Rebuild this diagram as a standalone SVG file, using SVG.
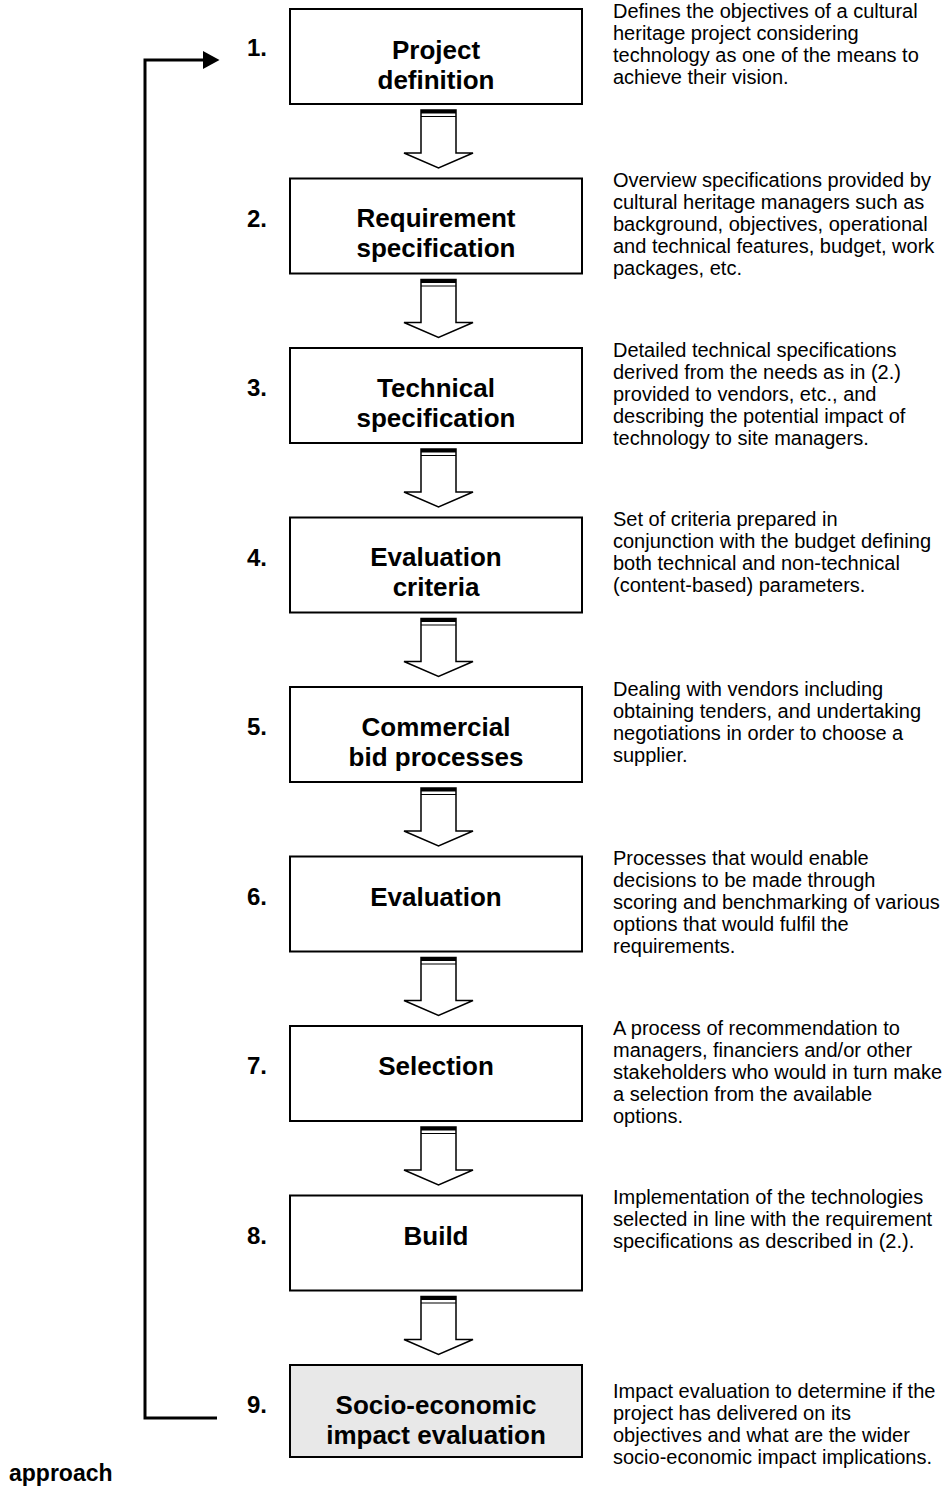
<svg xmlns="http://www.w3.org/2000/svg" width="946" height="1490" viewBox="0 0 946 1490">
  <defs>
    <style>
      .box { fill: #ffffff; stroke: #000000; stroke-width: 2; }
      .box.last { fill: #e8e8e8; }
      .label { font-family: "Liberation Sans", Arial, sans-serif; font-weight: bold; font-size: 26px; text-anchor: middle; fill: #000; }
      .num { font-family: "Liberation Sans", Arial, sans-serif; font-weight: bold; font-size: 24px; fill: #000; }
      .desc { font-family: "Liberation Sans", Arial, sans-serif; font-size: 20px; fill: #000; }
      .flow { fill: #ffffff; stroke: #000000; stroke-width: 1.5; stroke-linejoin: miter; }
      .feedback { fill: none; stroke: #000000; stroke-width: 3; }
    </style>
    <marker id="head" markerWidth="6" markerHeight="6" refX="0" refY="3" orient="auto" markerUnits="strokeWidth">
      <path d="M0,0 L5.5,3 L0,6 z" fill="#000"/>
    </marker>
    <!-- hollow block arrow between consecutive steps -->
    <g id="blockArrow">
      <polygon class="flow" points="421,0 456,0 456,43 473,43 438.5,58 404,43 421,43"/>
      <rect x="421" y="0" width="35" height="3.5" fill="#000"/>
      <line x1="421" y1="6.5" x2="456" y2="6.5" stroke="#000" stroke-width="1.2"/>
    </g>
  </defs>

  <rect width="946" height="1490" fill="#ffffff"/>

  <!-- connectors -->
  <g id="connectors">
    <use href="#blockArrow" y="110"/>
    <use href="#blockArrow" y="279.5"/>
    <use href="#blockArrow" y="449"/>
    <use href="#blockArrow" y="618.5"/>
    <use href="#blockArrow" y="788"/>
    <use href="#blockArrow" y="957.5"/>
    <use href="#blockArrow" y="1127"/>
    <use href="#blockArrow" y="1296.5"/>
    <!-- feedback loop from step 9 back to step 1 -->
    <polyline class="feedback" points="217,1418 145,1418 145,60 203,60" marker-end="url(#head)"/>
  </g>

  <!-- step 1 -->
  <g id="step1">
    <rect class="box" x="290" y="9" width="292" height="95"/>
    <text class="num" x="247" y="56">1.</text>
    <text class="label" x="436" y="59">Project</text>
    <text class="label" x="436" y="89">definition</text>
    <text class="desc" x="613" y="18">
      <tspan x="613" dy="0">Defines the objectives of a cultural</tspan>
      <tspan x="613" dy="22">heritage project considering</tspan>
      <tspan x="613" dy="22">technology as one of the means to</tspan>
      <tspan x="613" dy="22">achieve their vision.</tspan>
    </text>
  </g>

  <!-- step 2 -->
  <g id="step2">
    <rect class="box" x="290" y="178.5" width="292" height="95"/>
    <text class="num" x="247" y="226.5">2.</text>
    <text class="label" x="436" y="227">Requirement</text>
    <text class="label" x="436" y="257">specification</text>
    <text class="desc" x="613" y="187">
      <tspan x="613" dy="0">Overview specifications provided by</tspan>
      <tspan x="613" dy="22">cultural heritage managers such as</tspan>
      <tspan x="613" dy="22">background, objectives, operational</tspan>
      <tspan x="613" dy="22">and technical features, budget, work</tspan>
      <tspan x="613" dy="22">packages, etc.</tspan>
    </text>
  </g>

  <!-- step 3 -->
  <g id="step3">
    <rect class="box" x="290" y="348" width="292" height="95"/>
    <text class="num" x="247" y="396">3.</text>
    <text class="label" x="436" y="396.5">Technical</text>
    <text class="label" x="436" y="426.5">specification</text>
    <text class="desc" x="613" y="356.5">
      <tspan x="613" dy="0">Detailed technical specifications</tspan>
      <tspan x="613" dy="22">derived from the needs as in (2.)</tspan>
      <tspan x="613" dy="22">provided to vendors, etc., and</tspan>
      <tspan x="613" dy="22">describing the potential impact of</tspan>
      <tspan x="613" dy="22">technology to site managers.</tspan>
    </text>
  </g>

  <!-- step 4 -->
  <g id="step4">
    <rect class="box" x="290" y="517.5" width="292" height="95"/>
    <text class="num" x="247" y="565.5">4.</text>
    <text class="label" x="436" y="566">Evaluation</text>
    <text class="label" x="436" y="596">criteria</text>
    <text class="desc" x="613" y="526">
      <tspan x="613" dy="0">Set of criteria prepared in</tspan>
      <tspan x="613" dy="22">conjunction with the budget defining</tspan>
      <tspan x="613" dy="22">both technical and non-technical</tspan>
      <tspan x="613" dy="22">(content-based) parameters.</tspan>
    </text>
  </g>

  <!-- step 5 -->
  <g id="step5">
    <rect class="box" x="290" y="687" width="292" height="95"/>
    <text class="num" x="247" y="735">5.</text>
    <text class="label" x="436" y="735.5">Commercial</text>
    <text class="label" x="436" y="765.5">bid processes</text>
    <text class="desc" x="613" y="695.5">
      <tspan x="613" dy="0">Dealing with vendors including</tspan>
      <tspan x="613" dy="22">obtaining tenders, and undertaking</tspan>
      <tspan x="613" dy="22">negotiations in order to choose a</tspan>
      <tspan x="613" dy="22">supplier.</tspan>
    </text>
  </g>

  <!-- step 6 -->
  <g id="step6">
    <rect class="box" x="290" y="856.5" width="292" height="95"/>
    <text class="num" x="247" y="904.5">6.</text>
    <text class="label" x="436" y="905.5">Evaluation</text>
    <text class="desc" x="613" y="865">
      <tspan x="613" dy="0">Processes that would enable</tspan>
      <tspan x="613" dy="22">decisions to be made through</tspan>
      <tspan x="613" dy="22">scoring and benchmarking of various</tspan>
      <tspan x="613" dy="22">options that would fulfil the</tspan>
      <tspan x="613" dy="22">requirements.</tspan>
    </text>
  </g>

  <!-- step 7 -->
  <g id="step7">
    <rect class="box" x="290" y="1026" width="292" height="95"/>
    <text class="num" x="247" y="1074">7.</text>
    <text class="label" x="436" y="1075">Selection</text>
    <text class="desc" x="613" y="1034.5">
      <tspan x="613" dy="0">A process of recommendation to</tspan>
      <tspan x="613" dy="22">managers, financiers and/or other</tspan>
      <tspan x="613" dy="22">stakeholders who would in turn make</tspan>
      <tspan x="613" dy="22">a selection from the available</tspan>
      <tspan x="613" dy="22">options.</tspan>
    </text>
  </g>

  <!-- step 8 -->
  <g id="step8">
    <rect class="box" x="290" y="1195.5" width="292" height="95"/>
    <text class="num" x="247" y="1243.5">8.</text>
    <text class="label" x="436" y="1244.5">Build</text>
    <text class="desc" x="613" y="1204">
      <tspan x="613" dy="0">Implementation of the technologies</tspan>
      <tspan x="613" dy="22">selected in line with the requirement</tspan>
      <tspan x="613" dy="22">specifications as described in (2.).</tspan>
    </text>
  </g>

  <!-- step 9 -->
  <g id="step9">
    <rect class="box last" x="290" y="1365" width="292" height="92"/>
    <text class="num" x="247" y="1413">9.</text>
    <text class="label" x="436" y="1413.5">Socio-economic</text>
    <text class="label" x="436" y="1443.5">impact evaluation</text>
    <text class="desc" x="613" y="1398">
      <tspan x="613" dy="0">Impact evaluation to determine if the</tspan>
      <tspan x="613" dy="22">project has delivered on its</tspan>
      <tspan x="613" dy="22">objectives and what are the wider</tspan>
      <tspan x="613" dy="22">socio-economic impact implications.</tspan>
    </text>
  </g>

  <text class="num" x="9" y="1481" style="font-size:23px">approach</text>
</svg>
